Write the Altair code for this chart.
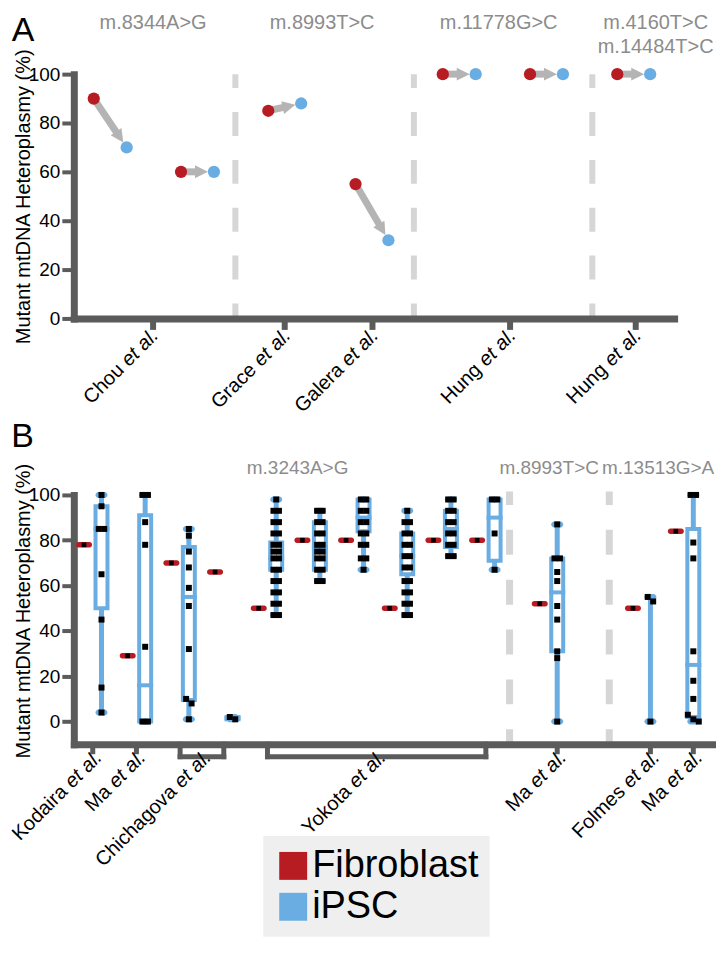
import math
import altair as alt
import pandas as pd

# ---------------- data ----------------
# Panel A: paired fibroblast -> iPSC heteroplasmy
A_STUDIES = ["Chou", "Chou", "Grace", "Galera", "Hung", "Hung", "Hung"]
A_FIBROBLAST = [90, 60, 85, 55, 100, 100, 100]
A_IPSC = [70, 60, 88, 32, 100, 100, 100]
A_TICK_LABELS = ["Chou", "Grace", "Galera", "Hung", "Hung"]
A_MUTATIONS = ["m.8344A>G", "m.8993T>C", "m.11778G>C", "m.4160T>C\nm.14484T>C"]

# Panel B: one fibroblast value and the iPSC clone values per line
B_FIBROBLAST = [78, 29, 70, 66, 50, 80, 80, 50, 80, 80, 52, 50, 84]
B_IPSC_POINTS = [
    [100, 95, 85, 85, 65, 45, 15, 4],
    [100, 100, 88, 78, 33, 0, 0],
    [85, 82, 75, 68, 59, 51, 32, 10, 8, 1],
    [2, 1],
    [98, 93, 93, 88, 88, 83, 83, 78, 78, 75, 75, 72, 72, 67, 67, 62, 62, 57, 57, 52, 52, 47, 47],
    [93, 93, 88, 88, 83, 83, 78, 78, 75, 75, 72, 72, 67, 67, 62, 62],
    [98, 98, 93, 93, 88, 88, 83, 83, 78, 78, 72, 72, 67],
    [93, 88, 88, 83, 83, 78, 78, 73, 73, 68, 68, 62, 62, 57, 57, 52, 52, 47, 47],
    [98, 98, 93, 93, 88, 88, 83, 83, 78, 78, 73, 73],
    [98, 98, 83, 67],
    [87, 72, 72, 66, 62, 51, 45, 31, 28, 0],
    [55, 53, 0],
    [100, 100, 79, 72, 31, 18, 10, 3, 1, 0],
]
# min, q1, median, q3, max  (None = no box drawn)
B_BOX = [
    (4, 50, 85, 95, 100),
    (0, 0, 16, 91, 100),
    (1, 9.5, 55, 77, 85),
    (1, 1, 1.5, 2, 2),
    (47, 67, 72, 79, 98),
    (62, 67, 77, 88, 93),
    (67, 84, 90, 98, 98),
    (47, 65, 73, 83, 93),
    (73, 77, 85, 93, 98),
    (67, 71, 90, 98, 98),
    (0, 31, 57, 72, 87),
    (0, None, None, None, 55),
    (0, 2, 25, 85, 100),
]
B_TICK_LABELS = ["Kodaira", "Ma", "Chichagova", "Yokota", "Ma", "Folmes", "Ma"]
B_MUTATIONS = ["m.3243A>G", "m.8993T>C", "m.13513G>A"]
GROUPS = ["Fibroblast", "iPSC"]

# ---------------- style ----------------
FONT = "Liberation Sans"
RED = "#b71c23"
BLUE = "#6aade2"
AXIS_GREY = "#5b5b5b"
ARROW_GREY = "#b4b4b4"
SEP_GREY = "#d6d6d6"
MUT_GREY = "#8c8c8c"
FS = 20
ETAL_W = 2.446 * FS  # width of " et al." (em units * size)

# ---------------- panel A geometry ----------------
WA, HA = 602, 245
PXA = 87.5
XA0 = -20.0 / PXA
XA1 = XA0 + WA / PXA
PYA = HA / 100.0
A_BLUE_SHIFT = 33.0 / PXA
A_TICK_POS = [0.67, 2.186, 3.19, 4.766, 6.206]
A_SEP_POS = [1.623, 3.669, 5.714]
A_MUT_POS = [0.68, 2.617, 4.64, 6.44]

sx_a = alt.Scale(domain=[XA0, XA1], nice=False, zero=False)
sy_a = alt.Scale(domain=[0, 100], nice=False, zero=False)


def y_axis(title_y):
    return alt.Axis(values=[0, 20, 40, 60, 80, 100], title="Mutant mtDNA Heteroplasmy (%)",
                    titleFont=FONT, titleFontSize=20, titleFontWeight="normal", titleColor="black",
                    titleAngle=270, titleAlign="center", titleBaseline="middle",
                    titleX=-50.5, titleY=title_y,
                    labelFont=FONT, labelFontSize=19, labelColor="black", labelPadding=2,
                    tickSize=12, tickWidth=4, tickColor=AXIS_GREY,
                    domainColor=AXIS_GREY, domainWidth=7, domainCap="square", grid=False)


ax_xa = alt.Axis(values=A_TICK_POS, labels=False, title=None, tickSize=11, tickWidth=6,
                 tickColor=AXIS_GREY, domainColor=AXIS_GREY, domainWidth=7, domainCap="square",
                 grid=False, zindex=1)
ax_ya = y_axis(HA / 2)


def XA(f):
    return alt.X(f"{f}:Q", scale=sx_a, axis=ax_xa)


def YA(f):
    return alt.Y(f"{f}:Q", scale=sy_a, axis=ax_ya)


sep_a = alt.Chart(pd.DataFrame({"x": A_SEP_POS, "y": 0, "y2": 100})).mark_rule(
    color=SEP_GREY, strokeWidth=6, strokeDash=[24, 24], strokeDashOffset=9
).encode(x=XA("x"), y=YA("y"), y2="y2:Q")

rows = []
R = 7.0
for i, (s, f, p) in enumerate(zip(A_STUDIES, A_FIBROBLAST, A_IPSC)):
    xr, xb = float(i), i + A_BLUE_SHIFT
    dxp = (xb - xr) * PXA
    dyp = -(p - f) * PYA
    L = math.hypot(dxp, dyp)
    ux, uy = dxp / L, dyp / L
    tip = L - R + 1
    hc = tip - 6.5
    se = tip - 10

    def to_data(t):
        return xr + ux * t / PXA, f - uy * t / PYA

    sx2, sy2 = to_data(se)
    hx, hy = to_data(hc)
    ang = (math.degrees(math.atan2(dyp, dxp)) + 360) % 360
    rows.append(dict(study=s, xr=xr, fib=f, xb=xb, ipsc=p, sx2=sx2, sy2=sy2, hx=hx, hy=hy, ang=ang))
adf = pd.DataFrame(rows)

shaft = alt.Chart(adf).mark_rule(color=ARROW_GREY, strokeWidth=7).encode(
    x=XA("xr"), y=YA("fib"), x2="sx2:Q", y2="sy2:Q")
head = alt.Chart(adf).mark_point(shape="M-1,-1L1,0L-1,1Z", filled=True, size=169, color=ARROW_GREY,
                                 opacity=1, strokeWidth=0).encode(
    x=XA("hx"), y=YA("hy"), angle=alt.Angle("ang:Q", scale=None))
red_a = alt.Chart(adf).mark_circle(size=150, color=RED, opacity=1).encode(x=XA("xr"), y=YA("fib"))
blue_a = alt.Chart(adf).mark_circle(size=150, color=BLUE, opacity=1).encode(x=XA("xb"), y=YA("ipsc"))

mut_a = alt.Chart(pd.DataFrame({"x": A_MUT_POS, "t": A_MUTATIONS})).mark_text(
    font=FONT, fontSize=FS, color=MUT_GREY, align="center", baseline="alphabetic",
    lineBreak="\n", lineHeight=24
).encode(x=XA("x"), y=alt.value(-45), text="t:N")


def study_labels(pos, names, xenc, px_per_unit, dx_px, y_px):
    df = pd.DataFrame({"x": [p + dx_px / px_per_unit for p in pos], "name": names, "etal": "et al."})
    common = dict(angle=315, align="right", baseline="top", font=FONT, fontSize=FS, color="black")
    n = alt.Chart(df).mark_text(dx=-ETAL_W, **common).encode(x=xenc("x"), y=alt.value(y_px), text="name:N")
    e = alt.Chart(df).mark_text(fontStyle="italic", **common).encode(x=xenc("x"), y=alt.value(y_px), text="etal:N")
    return n, e


names_a, etal_a = study_labels(A_TICK_POS, A_TICK_LABELS, XA, PXA, -4, HA + 7)

lab_a = alt.Chart(pd.DataFrame({"t": ["A"]})).mark_text(
    font=FONT, fontSize=34, color="black", align="center", baseline="alphabetic"
).encode(x=alt.value(-51), y=alt.value(-33), text="t:N")

panel_a = alt.layer(sep_a, shaft, head, red_a, blue_a, mut_a, names_a, etal_a, lab_a).properties(
    width=WA, height=HA)

# ---------------- panel B geometry ----------------
WB, HB = 644, 250
PXB = 43.8
XB0 = -19.0 / PXB
XB1 = XB0 + WB / PXB
PYB = HB / 110.0
CENTERS = [0, 1, 2, 3, 4, 5, 6, 7, 8, 9, 10.434, 12.568, 13.55]
RED_X = [c - 0.2 for c in CENTERS]
BOX_X = [c + 0.2 for c in CENTERS]
B_SEP_POS = [9.543, 11.826]

sx_b = alt.Scale(domain=[XB0, XB1], nice=False, zero=False)
sy_b = alt.Scale(domain=[-10, 100], nice=False, zero=False)
ax_xb = alt.Axis(values=[0], labels=False, ticks=False, title=None, domainColor=AXIS_GREY,
                 domainWidth=7, domainCap="square", grid=False, zindex=1)
ax_yb = y_axis(116)


def XB(f):
    return alt.X(f"{f}:Q", scale=sx_b, axis=ax_xb)


def YB(f):
    return alt.Y(f"{f}:Q", scale=sy_b, axis=ax_yb)


color_enc = alt.Color("group:N", scale=alt.Scale(domain=GROUPS, range=[RED, BLUE]),
                      legend=alt.Legend(title=None, orient="none", legendX=190, legendY=342,
                                        direction="vertical", symbolType="square", symbolSize=784,
                                        symbolStrokeWidth=0, symbolOpacity=1, labelFont=FONT,
                                        labelFontSize=38, labelColor="black", labelLimit=400,
                                        labelOffset=0, fillColor="#efeff0", padding=11, rowPadding=3))

sep_b = alt.Chart(pd.DataFrame({"x": B_SEP_POS, "y": -10, "y2": 101.5})).mark_rule(
    color=SEP_GREY, strokeWidth=7, strokeDash=[25, 25], strokeDashOffset=10
).encode(x=XB("x"), y=YB("y"), y2="y2:Q")

box_rows, cap_rows, pt_rows, fib_rows = [], [], [], []
HW = 6.0 / PXB
for k, (bx, rx, fv, pts, st) in enumerate(zip(BOX_X, RED_X, B_FIBROBLAST, B_IPSC_POINTS, B_BOX)):
    mn, q1, md, q3, mx = st
    box_rows.append(dict(x=bx, mn=mn, mx=mx, has=q1 is not None,
                         x1=bx - HW, x2=bx + HW, q1=q1 if q1 is not None else 0,
                         q3=q3 if q3 is not None else 0, md=md if md is not None else 0,
                         m1=bx - 8.0 / PXB, m2=bx + 8.0 / PXB))
    for v in (mn, mx):
        cap_rows.append(dict(x1=bx - HW, x2=bx + HW, y1=v - 3.0 / PYB, y2=v + 3.0 / PYB, group="iPSC"))
    fib_rows.append(dict(x=rx, x1=rx - 8.0 / PXB, x2=rx + 8.0 / PXB, v=fv,
                         y1=fv - 2.75 / PYB, y2=fv + 2.75 / PYB, group="Fibroblast"))
    vals = sorted(pts, reverse=True)
    clusters = []
    for v in vals:
        if clusters and clusters[-1][-1] - v < 2.5:
            clusters[-1].append(v)
        else:
            clusters.append([v])
    for cl in clusters:
        n = len(cl)
        for j, v in enumerate(cl):
            pt_rows.append(dict(x=bx + (j - (n - 1) / 2) * 5.5 / PXB, v=v))

bdf = pd.DataFrame(box_rows)
boxes_df = bdf[bdf["has"]]
cdf = pd.DataFrame(cap_rows)
fdf = pd.DataFrame(fib_rows)
pdf = pd.DataFrame(pt_rows)

whisk = alt.Chart(bdf).mark_rule(color=BLUE, strokeWidth=5).encode(x=XB("x"), y=YB("mn"), y2="mx:Q")
boxes = alt.Chart(boxes_df).mark_rect(fill="white", stroke=BLUE, strokeWidth=4).encode(
    x=XB("x1"), x2="x2:Q", y=YB("q1"), y2="q3:Q")
meds = alt.Chart(boxes_df).mark_rule(color=BLUE, strokeWidth=4).encode(
    x=XB("m1"), x2="m2:Q", y=YB("md"))
caps = alt.Chart(cdf).mark_rect(cornerRadius=3).encode(
    x=XB("x1"), x2="x2:Q", y=YB("y1"), y2="y2:Q", color=color_enc)
fibs = alt.Chart(fdf).mark_rect(cornerRadius=2.5).encode(
    x=XB("x1"), x2="x2:Q", y=YB("y1"), y2="y2:Q", color=color_enc)
pts_b = alt.Chart(pdf).mark_square(size=36, color="black", opacity=1).encode(x=XB("x"), y=YB("v"))
fibc = alt.Chart(fdf).mark_square(size=22, color="black", opacity=1).encode(x=XB("x"), y=YB("v"))

# ticks and brackets below the axis
single = [0, 1, BOX_X[10], BOX_X[11], BOX_X[12]]
brackets = [(2, 3), (4, 9)]
ticks_b = alt.Chart(pd.DataFrame({"x": single})).mark_rule(color=AXIS_GREY, strokeWidth=5).encode(
    x=XB("x"), y=alt.value(HB), y2=alt.value(HB + 10))
legs = alt.Chart(pd.DataFrame({"x": [b for br in brackets for b in br]})).mark_rule(
    color=AXIS_GREY, strokeWidth=5, strokeCap="square").encode(
    x=XB("x"), y=alt.value(HB), y2=alt.value(HB + 12.5))
bars = alt.Chart(pd.DataFrame({"x": [b[0] for b in brackets], "x2": [b[1] for b in brackets]})).mark_rule(
    color=AXIS_GREY, strokeWidth=5, strokeCap="square").encode(
    x=XB("x"), x2="x2:Q", y=alt.value(HB + 12.5))

B_LABEL_POS = [0, 1, 2.5, 6.5, BOX_X[10], BOX_X[11], BOX_X[12]]
names_b, etal_b = study_labels(B_LABEL_POS, B_TICK_LABELS, XB, PXB, -1, HB + 3)

mut_b1 = alt.Chart(pd.DataFrame({"x": [4.69, 10.45], "t": B_MUTATIONS[:2]})).mark_text(
    font=FONT, fontSize=19, color=MUT_GREY, align="center", baseline="alphabetic"
).encode(x=XB("x"), y=alt.value(-21), text="t:N")
mut_b2 = alt.Chart(pd.DataFrame({"x": [11.66], "t": B_MUTATIONS[2:]})).mark_text(
    font=FONT, fontSize=19, color=MUT_GREY, align="left", baseline="alphabetic"
).encode(x=XB("x"), y=alt.value(-21), text="t:N")

lab_b = alt.Chart(pd.DataFrame({"t": ["B"]})).mark_text(
    font=FONT, fontSize=34, color="black", align="center", baseline="alphabetic"
).encode(x=alt.value(-51.5), y=alt.value(-48), text="t:N")

panel_b = alt.layer(sep_b, whisk, boxes, meds, caps, fibs, pts_b, fibc, ticks_b, legs, bars,
                    mut_b1, mut_b2, names_b, etal_b, lab_b).properties(width=WB, height=HB)

chart = alt.vconcat(panel_a, panel_b, spacing=177, bounds="flush").resolve_scale(
    x="independent", y="independent", color="independent"
).properties(
    padding={"left": 0, "top": 4, "right": 0, "bottom": 0}
).configure_view(stroke=None)

chart.save("out.html", embed_options={"renderer": "svg", "actions": False})
